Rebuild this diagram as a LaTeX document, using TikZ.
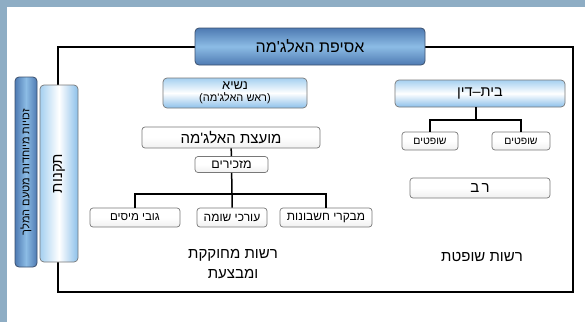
\documentclass[tikz,border=0pt]{standalone}
\usepackage{fontspec}
\setmainfont{Liberation Sans}
\newfontfamily\heb[Script=Hebrew]{Liberation Sans}
\TeXXeTstate=1
\newcommand{\hb}[1]{{\heb\beginR #1\endR}}
\newcommand{\fs}[1]{\fontsize{#1}{#1}\selectfont}
\definecolor{bgstrip}{RGB}{142,173,196}
\definecolor{darkb}{RGB}{78,122,178}
\definecolor{midb}{RGB}{140,188,229}
\definecolor{lightb}{RGB}{165,208,240}
\definecolor{lightb2}{RGB}{140,192,234}
\definecolor{edgeb}{RGB}{60,80,110}
\definecolor{edgeg}{RGB}{120,120,120}
\tikzset{
  darkbox/.style={draw=edgeb, line width=0.8pt, rounded corners=4pt, top color=darkb, bottom color=darkb, middle color=midb, inner sep=1pt, font=\heb},
  darkvbox/.style={draw=edgeb, line width=0.8pt, rounded corners=4pt, left color=darkb, right color=darkb, middle color=midb, inner sep=1pt, font=\heb},
  lightbox/.style={draw=edgeg, line width=0.7pt, rounded corners=4pt, top color=lightb, bottom color=lightb2, middle color=white, inner sep=1pt, font=\heb},
  lightvbox/.style={draw=edgeg, line width=0.7pt, rounded corners=4pt, left color=lightb, right color=lightb2, middle color=white, inner sep=1pt, font=\heb},
  whitebox/.style={draw=edgeg, line width=0.7pt, rounded corners=3pt, top color=white, bottom color=gray!12, middle color=white, inner sep=0.5pt, font=\heb},
  conn/.style={line width=1.5pt, black},
  lbl/.style={font=\heb, align=center, inner sep=0pt}
}
\begin{document}
\begin{tikzpicture}[x=1pt,y=-1pt]
\useasboundingbox (0,0) rectangle (585,322);
\fill[white] (0,0) rectangle (585,322);
\fill[bgstrip] (0,0) rectangle (585,7);
\fill[bgstrip] (0,0) rectangle (7,322);
% frame
\draw[conn] (58,47) rectangle (573,292);
% top
\node[darkbox, minimum width=230, minimum height=37, font=\heb\fs{16}] (asifa) at (310,46.5) {\hb{אסיפת האלג'מה}};
% left bars
\node[darkvbox, rotate=90, minimum width=190, minimum height=22, font=\heb\fs{11}] (zchuyot) at (26,172) {\hb{זכויות מיוחדות מטעם המלך}};
\node[lightvbox, rotate=90, minimum width=177, minimum height=38, font=\heb\fs{15}] (takanot) at (59,173.5) {\hb{תקנות}};
% legislative branch
\node[lightbox, minimum width=144, minimum height=30, inner sep=0pt, align=center] (nasi) at (235,93) {{\fs{13}\hb{נשיא}}\\[0pt]{\fs{11}\hb{(ראש האלג'מה)}}};
\node[whitebox, minimum width=178, minimum height=21, font=\heb\fs{15}] (moetza) at (231,137.5) {\hb{מועצת האלג'מה}};
\node[whitebox, minimum width=73, minimum height=16, font=\heb\fs{12.5}] (mazkirim) at (231.5,164.5) {\hb{מזכירים}};
\node[whitebox, minimum width=90, minimum height=19, font=\heb\fs{11.5}] (gvi) at (135,217.5) {\hb{גובי מיסים}};
\node[whitebox, minimum width=70, minimum height=19, font=\heb\fs{12}] (orchi) at (232,217.5) {\hb{עורכי שומה}};
\node[whitebox, minimum width=92, minimum height=19, font=\heb\fs{12}] (mevakrim) at (326,217.5) {\hb{מבקרי חשבונות}};
\coordinate (br1) at (232,194);
\draw[conn] (moetza) -- (mazkirim);
\draw[conn] (mazkirim) -- (br1) -- (orchi);
\draw[conn] (gvi.north) -- (gvi.north |- br1) -- (mevakrim.north |- br1) -- (mevakrim.north);
\node[lbl, font=\heb\fontsize{15}{20}\selectfont] (rashut1) at (233,264) {\hb{רשות מחוקקת}\\\hb{ומבצעת}};
% judicial branch
\node[lightbox, minimum width=170, minimum height=27, font=\heb\fs{14.5}] (beitdin) at (480,93.5) {\hb{בית–דין}};
\node[whitebox, minimum width=56, minimum height=18, font=\heb\fs{10.5}] (shofL) at (430,141) {\hb{שופטים}};
\node[whitebox, minimum width=58, minimum height=18, font=\heb\fs{10.5}] (shofR) at (521,141) {\hb{שופטים}};
\node[whitebox, minimum width=140, minimum height=20, font=\heb\fs{15}] (rav) at (480,188) {\hb{ר\,ב}};
\coordinate (br2) at (476,120);
\draw[conn] (beitdin.south -| br2) -- (br2);
\draw[conn] (shofL.north) -- (shofL.north |- br2) -- (shofR.north |- br2) -- (shofR.north);
\node[lbl, font=\heb\fs{15}] (rashut2) at (482,257) {\hb{רשות שופטת}};
\end{tikzpicture}
\end{document}
